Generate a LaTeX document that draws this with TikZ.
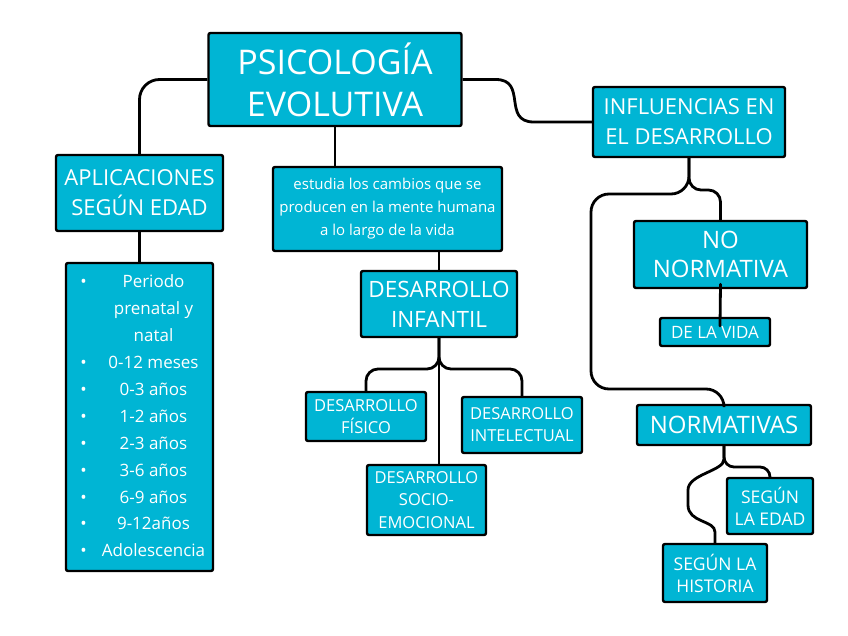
\documentclass[tikz,border=0pt]{standalone}
\usepackage{fontspec}
\setmainfont{Open Sans}
\definecolor{c00b5d4}{RGB}{0,181,212}
\tikzset{
  box/.style={draw=black, fill=c00b5d4, line width=2.4pt, rounded corners=2pt, text=white, align=center, inner sep=0pt},
  conn/.style={draw=black, line width=2.8pt, rounded corners=14pt}
}

\begin{document}
\begin{tikzpicture}[y=-1pt, x=1pt]
  \useasboundingbox (0,0) rectangle (848,636);

  \node[box, minimum width=253pt, minimum height=93pt, font=\fontsize{34}{42}\selectfont] (titulo) at (335, 79.5){PSICOLOGÍA\\EVOLUTIVA};

  \node[box, minimum width=167pt, minimum height=76pt, font=\fontsize{22}{30}\selectfont] (aplic) at (139.5, 193){APLICACIONES\\SEGÚN EDAD};

  \node[box, minimum width=229pt, minimum height=84pt, font=\fontsize{15}{23}\selectfont] (estudia) at (387.5, 209){estudia los cambios que se\\producen en la mente humana\\a lo largo de la vida};

  \node[box, minimum width=147pt, minimum height=308pt, font=\fontsize{17}{26.9}\selectfont] (lista) at (139.5, 417){%
    \begin{tabular}{@{}c@{}c@{}}
      \makebox[28pt]{\textbullet} & \makebox[112pt]{Periodo}\\
       & \makebox[112pt]{prenatal y}\\
       & \makebox[112pt]{natal}\\
      \makebox[28pt]{\textbullet} & \makebox[112pt]{0-12 meses}\\
      \makebox[28pt]{\textbullet} & \makebox[112pt]{0-3 años}\\
      \makebox[28pt]{\textbullet} & \makebox[112pt]{1-2 años}\\
      \makebox[28pt]{\textbullet} & \makebox[112pt]{2-3 años}\\
      \makebox[28pt]{\textbullet} & \makebox[112pt]{3-6 años}\\
      \makebox[28pt]{\textbullet} & \makebox[112pt]{6-9 años}\\
      \makebox[28pt]{\textbullet} & \makebox[112pt]{9-12años}\\
      \makebox[28pt]{\textbullet} & \makebox[112pt]{Adolescencia}
    \end{tabular}};

  \node[box, minimum width=192pt, minimum height=70pt, font=\fontsize{22}{30}\selectfont] (influ) at (689, 122){INFLUENCIAS EN\\EL DESARROLLO};

  \node[box, minimum width=173pt, minimum height=67pt, font=\fontsize{24}{29}\selectfont] (nonorm) at (720.5, 254.5){NO\\NORMATIVA};

  \node[box, minimum width=110pt, minimum height=28pt, font=\fontsize{17}{20}\selectfont] (vida) at (715, 332){DE LA VIDA};

  \node[box, minimum width=156pt, minimum height=66pt, font=\fontsize{22.5}{30}\selectfont] (infantil) at (439, 304){DESARROLLO\\INFANTIL};

  \node[box, minimum width=120pt, minimum height=49pt, font=\fontsize{16.5}{22}\selectfont] (fisico) at (366, 416.5){DESARROLLO\\FÍSICO};

  \node[box, minimum width=120pt, minimum height=56pt, font=\fontsize{16.5}{22}\selectfont] (intelec) at (522, 425){DESARROLLO\\INTELECTUAL};

  \node[box, minimum width=119pt, minimum height=70pt, font=\fontsize{16.5}{22.5}\selectfont] (socio) at (426.5, 500){DESARROLLO\\SOCIO-\\EMOCIONAL};

  \node[box, minimum width=174pt, minimum height=40pt, font=\fontsize{24}{28}\selectfont] (normat) at (724, 425){NORMATIVAS};

  \node[box, minimum width=86pt, minimum height=56pt, font=\fontsize{17.5}{22}\selectfont] (segedad) at (770, 506){SEGÚN\\LA EDAD};

  \node[box, minimum width=104pt, minimum height=58pt, font=\fontsize{17.5}{22}\selectfont] (seghist) at (715, 573){SEGÚN LA\\HISTORIA};

  \coordinate (ibar) at (439, 369);
  \coordinate (vidapt) at (720, 326);

  \path[conn, rounded corners=20pt] (titulo.west) -| (aplic.north);
  \path[conn] (titulo.south) -- (titulo.south |- estudia.north);
  \path[conn, rounded corners=0pt] (titulo.east) -- ++(33,0) .. controls +(32,0) and +(-32,0) .. ([xshift=-58pt]influ.west) -- (influ.west);

  \path[conn] (aplic.south) -- (lista.north);
  \path[conn] (infantil.north |- estudia.south) -- (infantil.north);

  \path[conn] (infantil.south) -- (infantil.south |- socio.north);
  \path[conn, rounded corners=12pt] (infantil.south) |- (fisico.north |- ibar) -- (fisico.north);
  \path[conn, rounded corners=12pt] (infantil.south) |- (intelec.north |- ibar) -- (intelec.north);

  \path[conn, rounded corners=12pt] (influ.south) |- (nonorm.north |- 0,190) -- (nonorm.north);
  \path[conn, rounded corners=18pt] (influ.south) |- (591,194) |- (normat.north |- 0,389) -- (normat.north);
  \path[conn, line cap=round] ([yshift=5pt]nonorm.south) -- (vidapt);

  \path[conn, rounded corners=10pt] (normat.south) |- (segedad.north |- 0,467) -- (segedad.north);
  \path[conn, rounded corners=0pt] (normat.south) -- ++(0,13) .. controls +(0,12) and +(0,-16) .. (688,490) -- (688,505) .. controls +(0,18) and +(0,-12) .. (seghist.north |- 0,532) -- (seghist.north);

\end{tikzpicture}
\end{document}
